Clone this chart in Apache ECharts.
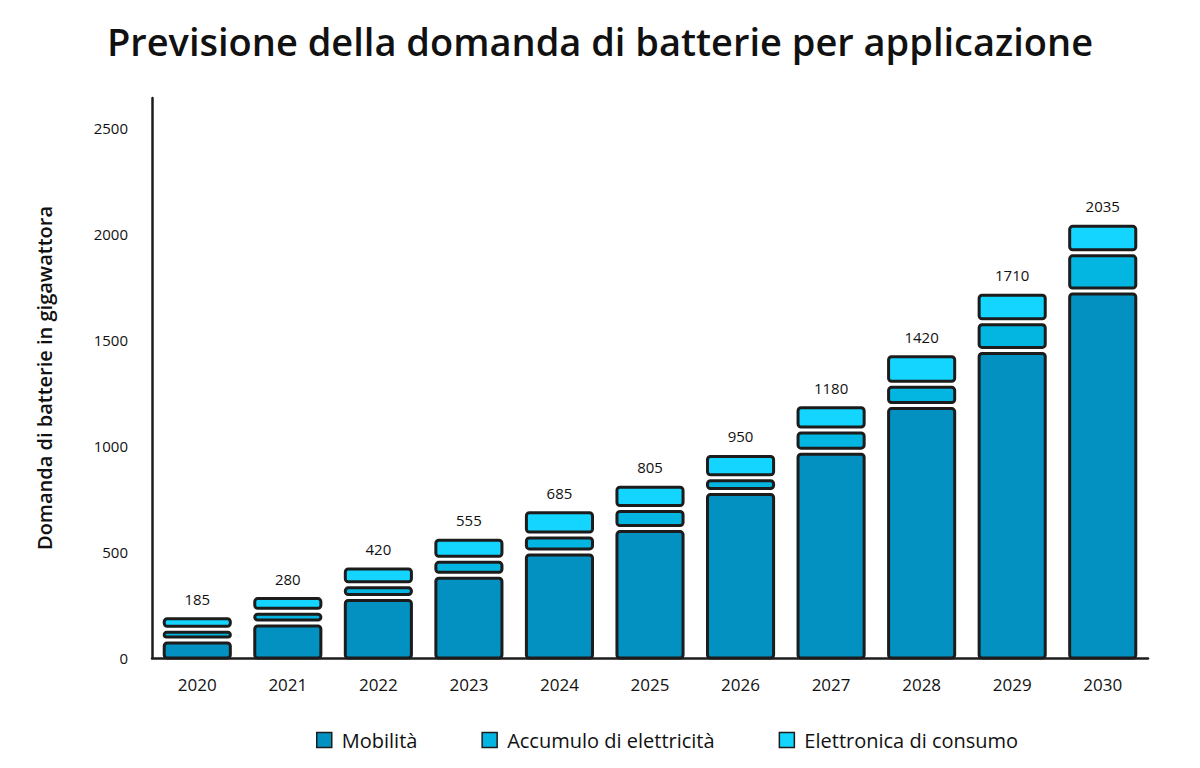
<!DOCTYPE html>
<html>
<head>
<meta charset="utf-8">
<title>Previsione della domanda di batterie per applicazione</title>
<script src="https://cdn.jsdelivr.net/npm/echarts@6/dist/echarts.min.js"></script>
<style>
  html, body { margin: 0; padding: 0; background: #ffffff; }
  #main { width: 1200px; height: 768px; }
</style>
</head>
<body>
<div id="main"></div>
<script>
// Anni sull'asse x
var anni = ['2020', '2021', '2022', '2023', '2024', '2025', '2026', '2027', '2028', '2029', '2030'];

// Domanda per applicazione (GWh)
var mobilita = [85, 165, 285, 390, 500, 610, 785, 975, 1190, 1450, 1730];
var accumulo = [50, 55, 60, 75, 80, 95, 65, 100, 100, 135, 180];
var elettronica = [50, 60, 75, 90, 105, 100, 100, 105, 130, 125, 125];

// Totali mostrati sopra le barre
var totali = [185, 280, 420, 555, 685, 805, 950, 1180, 1420, 1710, 2035];

var nomi = ['Mobilità', 'Accumulo di elettricità', 'Elettronica di consumo'];
var colori = ['#0391c1', '#03b5e1', '#13d5ff'];
var font = '"Open Sans", "Noto Sans", sans-serif';

var myChart = echarts.init(document.getElementById('main'), null, { renderer: 'svg' });

// Costruisce i dati [indice, base, cima] per ogni segmento impilato
function segmenti(valori, basi) {
    return valori.map(function (v, i) {
        return [i, basi[i], basi[i] + v];
    });
}
var base0 = anni.map(function () { return 0; });
var base1 = mobilita.slice();
var base2 = mobilita.map(function (v, i) { return v + accumulo[i]; });

var datiSerie = [
    segmenti(mobilita, base0),
    segmenti(accumulo, base1),
    segmenti(elettronica, base2)
];

// Ogni segmento e' un rettangolo con bordo nero e un piccolo spazio bianco
function disegna(k) {
    return function (params, api) {
        var i = api.value(0);
        var basso = api.coord([i, api.value(1)]);
        var alto = api.coord([i, api.value(2)]);
        var w = api.size([1, 0])[0] * 0.73;
        var y0 = basso[1] - (k > 0 ? 3 : 0);
        var y1 = alto[1] + (k < 2 ? 3 : 0);
        var rect = {
            type: 'rect',
            shape: { x: alto[0] - w / 2, y: y1, width: w, height: Math.max(y0 - y1, 1), r: 3 },
            style: { fill: colori[k], stroke: '#1c1c1c', lineWidth: 3 }
        };
        if (k < 2) return rect;
        return {
            type: 'group',
            children: [rect, {
                type: 'text',
                style: {
                    text: String(totali[i]),
                    x: alto[0],
                    y: alto[1] - 20,
                    align: 'center',
                    verticalAlign: 'middle',
                    fill: '#111111',
                    font: '500 15px ' + font
                }
            }]
        };
    };
}

var option = {
    backgroundColor: '#ffffff',
    title: {
        text: 'Previsione della domanda di batterie per applicazione',
        left: 'center',
        top: 17,
        textStyle: { fontFamily: font, fontSize: 38, fontWeight: 600, color: '#111111' }
    },
    legend: {
        bottom: 13,
        left: 311,
        itemGap: 64,
        itemWidth: 15,
        itemHeight: 15,
        icon: 'rect',
        itemStyle: { borderColor: '#1c1c1c', borderWidth: 1.5 },
        textStyle: { fontFamily: font, fontSize: 20, color: '#111111', fontWeight: 500, padding: [0, 0, 0, 5] },
        data: nomi
    },
    grid: { left: 152, right: 52, top: 98, bottom: 110 },
    xAxis: {
        type: 'category',
        data: anni,
        axisLine: { lineStyle: { color: '#1c1c1c', width: 2.5 } },
        axisTick: { show: false },
        axisLabel: { margin: 18, fontFamily: font, fontSize: 17, fontWeight: 500, color: '#111111' }
    },
    yAxis: {
        type: 'value',
        min: 0,
        max: 2640,
        interval: 500,
        name: 'Domanda di batterie in gigawattora',
        nameLocation: 'middle',
        nameRotate: 90,
        nameGap: 98,
        nameTextStyle: { fontFamily: font, fontSize: 20, fontWeight: 600, color: '#111111' },
        axisLine: { show: true, lineStyle: { color: '#1c1c1c', width: 2.5 } },
        axisTick: { show: false },
        splitLine: { show: false },
        axisLabel: {
            margin: 24,
            showMaxLabel: false,
            formatter: function (v) { return String(v); },
            fontFamily: font, fontSize: 15, fontWeight: 500, color: '#111111'
        }
    },
    series: nomi.map(function (n, k) {
        return {
            name: n,
            type: 'custom',
            itemStyle: { color: colori[k] },
            encode: { x: 0, y: [1, 2] },
            data: datiSerie[k],
            renderItem: disegna(k)
        };
    })
};

myChart.setOption(option);
</script>
</body>
</html>
